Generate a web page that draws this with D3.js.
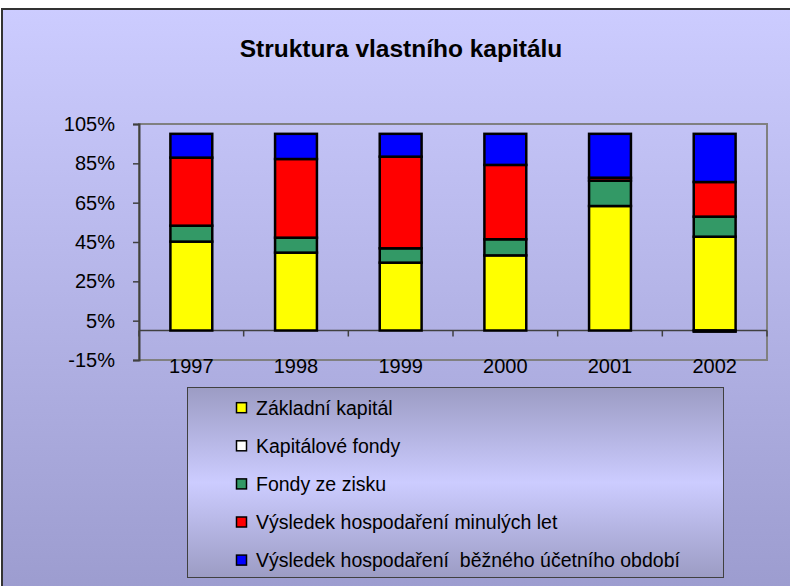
<!DOCTYPE html>
<html>
<head>
<meta charset="utf-8">
<script src="https://d3js.org/d3.v7.min.js"></script>
<style>
body { margin: 0; overflow: hidden; background: #fff; }
text { font-family: "Liberation Sans", Arial, sans-serif; fill: #000; }
.tick text { font-size: 20px; }
</style>
</head>
<body>
<svg width="790" height="586"></svg>
<script>
// data (percent of equity)
const years = ['1997', '1998', '1999', '2000', '2001', '2002'];
const seriesNames = [
  'Základní kapitál',
  'Kapitálové fondy',
  'Fondy ze zisku',
  'Výsledek hospodaření minulých let',
  'Výsledek hospodaření  běžného účetního období'
];
const zakladni = [45.2, 39.6, 34.5, 38.2, 63.3, 47.7];
const kapFondy = [0, 0, 0, 0, 0, -0.6];
const fondyZisk = [8.1, 7.6, 7.3, 8.2, 12.9, 10.2];
const minulaLeta = [34.6, 40.0, 46.6, 37.8, 1.5, 17.6];
const bezneObdobi = [12.1, 12.8, 11.6, 15.8, 22.3, 24.5];
const yTicks = [-15, 5, 25, 45, 65, 85, 105];
const colors = ['#ffff00', '#ffffff', '#339966', '#ff0000', '#0000ff'];

const svg = d3.select('svg');
const defs = svg.append('defs');

const bg = defs.append('linearGradient').attr('id', 'bg')
  .attr('x1', 0).attr('y1', 0).attr('x2', 0).attr('y2', 1);
bg.append('stop').attr('offset', '0%').attr('stop-color', '#ccccff');
bg.append('stop').attr('offset', '100%').attr('stop-color', '#9999cc');

const lg = defs.append('linearGradient').attr('id', 'lg')
  .attr('x1', 0).attr('y1', 0).attr('x2', 0).attr('y2', 1);
lg.append('stop').attr('offset', '0%').attr('stop-color', '#9c9cc4');
lg.append('stop').attr('offset', '50%').attr('stop-color', '#ccccff');
lg.append('stop').attr('offset', '100%').attr('stop-color', '#9c9cc4');

// chart area
svg.append('rect')
  .attr('x', 2).attr('y', 9)
  .attr('width', 820).attr('height', 620)
  .attr('fill', 'url(#bg)')
  .attr('stroke', '#333').attr('stroke-width', 2);

svg.append('text')
  .attr('x', 401).attr('y', 57)
  .attr('text-anchor', 'middle')
  .style('font-size', '24.5px').style('font-weight', 'bold')
  .text('Struktura vlastního kapitálu');

const plot = {left: 139, right: 767, top: 124, bottom: 360};

const x = d3.scaleBand()
  .domain(years)
  .range([plot.left, plot.right])
  .paddingInner(0.6)
  .paddingOuter(0.3);

const y = d3.scaleLinear()
  .domain([-15, 105])
  .range([plot.bottom, plot.top]);

// plot frame
svg.append('rect')
  .attr('x', plot.left).attr('y', plot.top)
  .attr('width', plot.right - plot.left)
  .attr('height', plot.bottom - plot.top)
  .attr('fill', 'none')
  .attr('stroke', '#808080').attr('stroke-width', 2);

const table = years.map((yr, i) => ({
  year: yr,
  s0: zakladni[i], s1: kapFondy[i], s2: fondyZisk[i], s3: minulaLeta[i], s4: bezneObdobi[i]
}));
const keys = ['s0', 's1', 's2', 's3', 's4'];
const stacked = d3.stack().keys(keys).offset(d3.stackOffsetDiverging)(table);

// category axis on zero line
const catStep = x.step();
svg.append('line')
  .attr('x1', plot.left).attr('x2', plot.right)
  .attr('y1', y(0)).attr('y2', y(0))
  .attr('stroke', '#404040').attr('stroke-width', 1.5);
svg.append('g').selectAll('line')
  .data(d3.range(years.length + 1))
  .enter().append('line')
    .attr('x1', i => plot.left + i * catStep)
    .attr('x2', i => plot.left + i * catStep)
    .attr('y1', y(0)).attr('y2', y(0) + 6)
    .attr('stroke', '#404040').attr('stroke-width', 1.5);

svg.append('g').selectAll('text')
  .data(years)
  .enter().append('text')
    .attr('x', d => x(d) + x.bandwidth() / 2)
    .attr('y', 373)
    .attr('text-anchor', 'middle')
    .style('font-size', '20px')
    .text(d => d);

// y axis
const yAxis = d3.axisLeft(y)
  .tickValues(yTicks)
  .tickSize(6)
  .tickPadding(18)
  .tickFormat(d => d + '%');
const yG = svg.append('g')
  .attr('transform', `translate(${plot.left},0)`)
  .call(yAxis);
yG.select('.domain').attr('stroke', '#404040').attr('stroke-width', 2);
yG.selectAll('.tick line').attr('stroke', '#404040').attr('stroke-width', 1.5);

// bars
svg.append('g').selectAll('g')
  .data(stacked)
  .enter().append('g')
    .attr('fill', (d, i) => colors[i])
  .selectAll('rect')
  .data(d => d.filter(p => p[1] !== p[0]))
  .enter().append('rect')
    .attr('x', d => x(d.data.year))
    .attr('width', x.bandwidth())
    .attr('y', d => y(Math.max(d[0], d[1])))
    .attr('height', d => Math.abs(y(d[0]) - y(d[1])))
    .attr('stroke', '#000')
    .attr('stroke-width', 2.5);

// legend
const legend = svg.append('g');
legend.append('rect')
  .attr('x', 187.5).attr('y', 387.5)
  .attr('width', 536).attr('height', 190)
  .attr('fill', 'url(#lg)')
  .attr('stroke', '#404040').attr('stroke-width', 1);

const items = legend.selectAll('g.item')
  .data(seriesNames)
  .enter().append('g')
    .attr('class', 'item')
    .attr('transform', (d, i) => `translate(0, ${407.7 + i * 38.1})`);
items.append('rect')
  .attr('x', 236.5).attr('y', -5)
  .attr('width', 10).attr('height', 10)
  .attr('fill', (d, i) => colors[i])
  .attr('stroke', '#000').attr('stroke-width', 1.5);
items.append('text')
  .attr('x', 256)
  .attr('dy', '0.35em')
  .style('font-size', '19.5px')
  .style('white-space', 'pre')
  .text(d => d);
</script>
</body>
</html>
